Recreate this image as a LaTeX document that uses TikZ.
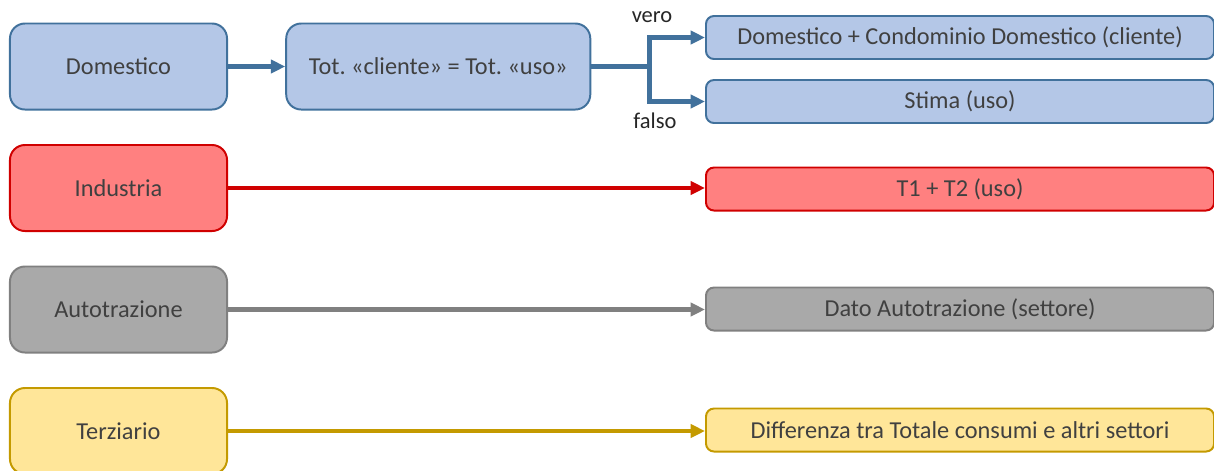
\documentclass[tikz,border=0pt]{standalone}
\usepackage{fontspec}
\setmainfont{Carlito}
\usepackage{tikz}
\usetikzlibrary{arrows.meta}
\usetikzlibrary{positioning,calc}
\frenchspacing

\definecolor{domfill}{HTML}{B4C7E7}
\definecolor{domline}{HTML}{41719C}
\definecolor{indfill}{HTML}{FF8080}
\definecolor{indline}{HTML}{D00000}
\definecolor{autfill}{HTML}{A9A9A9}
\definecolor{autline}{HTML}{808080}
\definecolor{terfill}{HTML}{FFE699}
\definecolor{terline}{HTML}{C49A00}
\definecolor{txtgray}{HTML}{404040}

\begin{document}
\begin{tikzpicture}[
        x=0.025cm, y=-0.025cm,
        catsty/.style={
            rounded corners=0.375cm, line width=1.4pt,
            draw=#1line, fill=#1fill, rectangle,
            minimum height=2.15cm,
            minimum width=5.425cm,
            text=txtgray, font=\fontsize{17.3}{20}\selectfont,
        },
        outsty/.style={
            rounded corners=0.2cm, line width=1.4pt,
            draw=#1line, fill=#1fill, rectangle,
            minimum height=1.075cm,
            minimum width=12.7cm,
            anchor=west,
            text=txtgray, font=\fontsize{17.3}{20}\selectfont,
        },
        arrowsty/.style={-{Triangle[length=0.36cm,width=0.33cm]}, line width=3.2pt, draw=#1line},
        lblsty/.style={text=black!85, font=\fontsize{16}{19}\selectfont},
    ]
    \useasboundingbox (0,0) rectangle (1214,470);

    \node[catsty=dom] at (118.5,66.5) (dom) {Domestico};
    \node[catsty=dom, minimum width=7.6cm, right=1.43cm of dom] (tot) {Tot. «cliente» = Tot. «uso»};
    \node[catsty=ind] at (118.5,188) (ind) {Industria};
    \node[catsty=aut] at (118.5,309.5) (aut) {Autotrazione};
    \node[catsty=ter] at (118.5,431) (ter) {Terziario};

    \node[outsty=dom] at (705,37.5) (domcli) {Domestico + Condominio Domestico (cliente)};
    \node[outsty=dom] at (705,101.5) (stima) {Stima (uso)};
    \node[outsty=ind] at (705,189) (t12) {T1 + T2 (uso)};
    \node[outsty=aut] at (705,309) (dato) {Dato Autotrazione (settore)};
    \node[outsty=ter] at (705,430) (diff) {Differenza tra Totale consumi e altri settori};

    \coordinate (split) at ($(tot.east)+(58,0)$);

    \draw[arrowsty=dom] (dom) -- (tot);
    \draw[line width=3.2pt, draw=domline] (tot.east) -- (split);
    \draw[arrowsty=dom] (split) |- (domcli.west);
    \draw[arrowsty=dom] (split) |- (stima.west);

    \node[lblsty] at (652,17) (vero) {vero};
    \node[lblsty] at (655,121) (falso) {falso};

    \draw[arrowsty=ind] (ind.east) -- (ind.east -| t12.west);
    \draw[arrowsty=aut] (aut.east) -- (aut.east -| dato.west);
    \draw[arrowsty=ter] (ter.east) -- (ter.east -| diff.west);

    \end{tikzpicture}
\end{document}
